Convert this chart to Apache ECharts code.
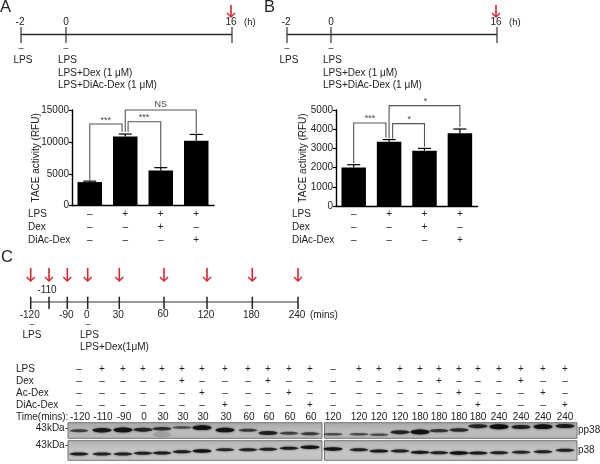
<!DOCTYPE html>
<html><head><meta charset="utf-8">
<style>html,body{margin:0;padding:0;background:#fff}#c{width:600px;height:464px}</style>
<script src="https://cdn.jsdelivr.net/npm/echarts@6/dist/echarts.min.js"></script>
</head><body><div id="c"></div>
<script>
// ---- data ----
const barRowsLabels = ["LPS","Dex","DiAc-Dex"];
const barSigns = [["-","+","+","+"],["-","-","+","-"],["-","-","-","+"]];
const aValues = [3700,10850,5520,10180];
const aErrTop = [3850,11230,5960,11170];
const bValues = [2000,3350,2880,3790];
const bErrTop = [2150,3460,3000,4010];
const aMax = 15000, bMax = 5000;
// bracket: [fromCat, fromDrop, toCat, toDrop, level]
const aBrackets = [[0,3950,0.91,11600,12800],[1.08,11600,2,6050,13170],[1,11600,3,11300,15000]];
const bBrackets = [[0,2230,0.91,3560,4320],[1.1,3520,2,3090,4290],[1,3520,3,4130,5230]];
const aBracketLabels = [[0.45,"***",13350],[1.53,"***",13750],[2,"NS",15850]];
const bBracketLabels = [[0.46,"***",4560],[1.57,"*",4520],[2.03,"*",5460]];
const laneTimes = ["-120","-110","-90","0","30","30","30","30","60","60","60","60","120","120","120","120","180","180","180","180","240","240","240","240"];
const rowNames = ["LPS","Dex","Ac-Dex","DiAc-Dex"];
const rowSigns = [
 "-+++++++++++-+++++++++++",
 "-----+---+-------+---+--",
 "------+---+-------+---+-",
 "-------+---+-------+---+"];
// western-blot bands: intensity 0..1 and row in the panel
const ppIntensity = [.45,.85,.95,.7,.6,.35,.95,.9,.5,.75,.45,.5, .35,.35,.35,.7,.95,.55,.65,.7,1,.75,.95,.8];
const ppRow = [430.7,430.3,430,429.7,428.7,427.5,427.7,430,430.3,433,433.3,433.7, 434.3,434.3,434.7,432.3,432,430.7,430,426.3,426.7,427,426.7,426];
const p38Intensity = [.8,.75,.75,.75,.8,.8,.95,.7,.75,.75,.8,.9, .9,.75,.85,.75,.85,.75,.95,.85,.75,.7,.75,.75];
const p38Row = [454,454,454,453.3,453,451.7,451,449.7,449.7,449.3,448.3,447.3, 449,449.7,451,451,452.3,452.7,453,453,452.7,452.3,451.7,450.3];

const tlA = {labels:["-2","0","16"], unit:"(h)"};
const tlC = {labels:["-120","-110","-90","0","30","60","120","180","240"], unit:"(mins)"};

// ---- layout ----
const FONT = '"Liberation Sans", Arial, sans-serif', INK = '#222';
const laneX = [79,102,123,143,162,182,202,225,248,268,289,310, 333,359,379,400,420,439,459,478,499,521,543,565];
const rowY = [369,381,393,405];
const tlCx = [30.7,49,67.3,87.7,119.3,164,207,252.3,298];

const texts = [], segs = [], arrows = [], panels = [], bands = [];
const T=(x,y,s,align,size,weight)=>texts.push({x,y,s,align:align||'center',size:size||10,weight});
const S=(x1,y1,x2,y2,w,c)=>segs.push({v:[x1,y1,x2,y2],w:w||1.2,c:c||'#333'});

// panel letters
T(0,7,"A",'left',16.5); T(264,7,"B",'left',16.5); T(1,257,"C",'left',16.5);

// timelines A and B
function hTimeline(x0,x1,x2){
  S(x0,34.5,x2,34.5,1.5,'#2a2a2a'); [x0,x1,x2].forEach(x=>S(x,27,x,43,1.2));
  T(x0-1,22,tlA.labels[0]); T(x1,22,tlA.labels[1]); T(x2-1,22,tlA.labels[2]); T(x2+12,22,tlA.unit,'left',9.5);
  arrows.push([x2-1,5,17]);
  T(x0,49,"–",'center',9); T(x1,49,"–",'center',9);
  T(x0+2,60,"LPS"); T(x1-8,60,"LPS",'left');
  T(x1-8,73,"LPS+Dex (1 μM)",'left'); T(x1-8,85,"LPS+DiAc-Dex (1 μM)",'left');
}
hTimeline(21,66,232); hTimeline(287,331,497);

// timeline C
S(tlCx[0],302,tlCx[8],302,1.2);
tlCx.forEach((x,i)=>{S(x,296.7,x,309,1.5,'#222'); arrows.push([x,268,281]);
  if(i===1) T(x-2,290,tlC.labels[i]); else T(x-1,i===5?314:315,tlC.labels[i]);});
T(310,315,tlC.unit,'left');
T(32,324.5,"–",'center',9); T(88,324.5,"–",'center',9);
T(32,335,"LPS"); T(80,335,"LPS",'left'); T(80,347,"LPS+Dex(1μM)",'left');

// blot table
rowNames.forEach((n,r)=>{T(16,rowY[r],n,'left');
  laneX.forEach((x,i)=>T(x,rowY[r],rowSigns[r][i]==='+'?'+':'–','center',10));});
T(16,417,"Time(mins):",'left');
laneTimes.forEach((t,i)=>T(laneX[i]+(i<12?1:0),417,t));
T(68,428.5,"43kDa-",'right'); T(68,445,"43kDa-",'right');
T(578,430,"pp38",'left'); T(578,450.5,"p38",'left');

// blot panels and bands
[[68,322],[324.5,577]].forEach(([a,b])=>{panels.push([a,422.7,b,438.3,0],[a,440.7,b,460.3,1]);});
bands.push({x:162,y:434.5,a:.14,rx:9,ry:3});
laneX.forEach((x,i)=>{
  bands.push({x,y:ppRow[i],a:.35+.65*ppIntensity[i],rx:9.5,ry:.6+1.9*ppIntensity[i]});
  bands.push({x,y:p38Row[i],a:.35+.65*p38Intensity[i],rx:9.5,ry:.6+1.2*p38Intensity[i]});
});

// ---- render helpers ----
const overlay = {xAxisIndex:0,yAxisIndex:0,type:'custom',silent:true,clip:false,animation:false};
const series = [
 {...overlay,name:'panels',data:panels,renderItem(p,api){
   const a=api.coord([api.value(0),api.value(1)]),b=api.coord([api.value(2),api.value(3)]);
   const stops=api.value(4)?['#b2b2b2','#c6c6c6','#c2c2c2']:['#a6a6a6','#bcbcbc','#b6b6b6'];
   return {type:'rect',shape:{x:a[0],y:a[1],width:b[0]-a[0],height:b[1]-a[1]},
     style:{fill:{type:'linear',x:0,y:0,x2:0,y2:1,colorStops:stops.map((c,i)=>({offset:i/2,color:c}))},stroke:'#737373',lineWidth:1}};}},
 {...overlay,name:'bands',data:bands.map(b=>[b.x,b.y]),renderItem(p,api){
   const b=bands[p.dataIndex],c=api.coord([b.x,b.y]);
   return {type:'ellipse',shape:{cx:c[0],cy:c[1],rx:b.rx,ry:b.ry},
     style:{fill:'rgba(15,15,15,'+b.a+')',shadowBlur:2.5,shadowColor:'rgba(20,20,20,'+(b.a*.8)+')'}};}},
 {...overlay,name:'segments',data:segs.map(s=>s.v),renderItem(p,api){
   const s=segs[p.dataIndex],a=api.coord([s.v[0],s.v[1]]),b=api.coord([s.v[2],s.v[3]]);
   return {type:'line',shape:{x1:a[0],y1:a[1],x2:b[0],y2:b[1]},style:{stroke:s.c,lineWidth:s.w}};}},
 {...overlay,name:'arrows',data:arrows,renderItem(p,api){
   const x=api.value(0),y0=api.value(1),y1=api.value(2),a=api.coord([x,y0]),b=api.coord([x,y1]);
   return {type:'group',children:[
     {type:'line',shape:{x1:a[0],y1:a[1],x2:b[0],y2:b[1]},style:{stroke:'#d9252e',lineWidth:1.6}},
     {type:'polyline',shape:{points:[[b[0]-4,b[1]-4],[b[0],b[1]],[b[0]+4,b[1]-4]]},style:{stroke:'#d9252e',lineWidth:1.4,fill:null}}]};}},
 {...overlay,name:'texts',data:texts.map(t=>[t.x,t.y]),renderItem(p,api){
   const t=texts[p.dataIndex],c=api.coord([t.x,t.y]);
   return {type:'text',x:c[0],y:c[1],style:{text:t.s,fill:INK,font:t.size+'px '+FONT,align:t.align,verticalAlign:'middle'}};}}
];

function barGroup(idx,name,vals,errs,brs,brl,rowLabelsX){
  const ax={xAxisIndex:idx,yAxisIndex:idx};
  series.push({...ax,type:'bar',name,data:vals,barWidth:24.5,animation:false,silent:true,itemStyle:{color:'#000'}});
  series.push({...ax,type:'custom',name:name+' error',silent:true,animation:false,clip:false,
    data:vals.map((v,i)=>[i,v,errs[i]]),renderItem(p,api){
      const a=api.coord([api.value(0),api.value(1)]),b=api.coord([api.value(0),api.value(2)]);
      return {type:'group',children:[
        {type:'line',shape:{x1:a[0],y1:a[1],x2:b[0],y2:b[1]},style:{stroke:'#000',lineWidth:1.2}},
        {type:'line',shape:{x1:b[0]-6.5,y1:b[1],x2:b[0]+6.5,y2:b[1]},style:{stroke:'#000',lineWidth:1.2}}]};}});
  const step = idx===1?35.5:35.4;
  series.push({...ax,type:'custom',name:name+' brackets',silent:true,animation:false,clip:false,
    data:brs,renderItem(p,api){
      const zero=api.coord([0,0]),f=zero[0]+api.value(0)*step,t=zero[0]+api.value(2)*step;
      const Y=v=>api.coord([0,v])[1];
      return {type:'polyline',shape:{points:[[f,Y(api.value(1))],[f,Y(api.value(4))],[t,Y(api.value(4))],[t,Y(api.value(3))]]},
        style:{stroke:'#555',lineWidth:1.1,fill:null}};}});
  series.push({...ax,type:'custom',name:name+' stars',silent:true,animation:false,clip:false,
    data:brl.map(l=>[l[0],l[2]]),renderItem(p,api){
      const zero=api.coord([0,0]),x=zero[0]+api.value(0)*step;
      return {type:'text',x,y:api.coord([0,api.value(1)])[1],style:{text:brl[p.dataIndex][1],fill:'#444',font:'9px '+FONT,align:'center',verticalAlign:'middle'}};}});
  // sign rows
  const cells=[];barSigns.forEach((r,ri)=>r.forEach((s,ci)=>cells.push([ci,ri,s==='+'?1:0])));
  series.push({...ax,type:'custom',name:name+' signs',silent:true,animation:false,clip:false,
    data:cells,renderItem(p,api){
      const z=api.coord([api.value(0),0]);
      return {type:'text',x:z[0],y:z[1]+8.5+api.value(1)*13,style:{text:api.value(2)?'+':'–',fill:INK,font:'10px '+FONT,align:'center',verticalAlign:'middle'}};}});
  series.push({...ax,type:'custom',name:name+' row labels',silent:true,animation:false,clip:false,
    data:barRowsLabels.map((l,i)=>[0,i]),renderItem(p,api){
      const z=api.coord([0,0]);
      return {type:'text',x:rowLabelsX,y:z[1]+8.5+api.value(1)*13,style:{text:barRowsLabels[p.dataIndex],fill:INK,font:'10px '+FONT,align:'left',verticalAlign:'middle'}};}});
}
barGroup(1,'A',aValues,aErrTop,aBrackets,aBracketLabels,28);
barGroup(2,'B',bValues,bErrTop,bBrackets,bBracketLabels,292);

const cats=["1","2","3","4"];
const catAxis=g=>({type:'category',gridIndex:g,data:cats,boundaryGap:true,
  axisLine:{lineStyle:{color:'#000',width:1.4}},axisTick:{show:false},axisLabel:{show:false}});
const valAxis=(g,max,iv,gap)=>({type:'value',gridIndex:g,min:0,max,interval:iv,splitLine:{show:false},
  name:'TACE activity (RFU)',nameLocation:'middle',nameGap:gap,nameRotate:90,nameMoveOverlap:false,
  nameTextStyle:{fontFamily:FONT,fontSize:10,color:INK},
  axisLine:{show:true,lineStyle:{color:'#000',width:1.4}},axisTick:{show:true,length:3,lineStyle:{color:'#000',width:1.2}},
  axisLabel:{fontFamily:FONT,fontSize:10,color:INK,margin:3,formatter:v=>String(v)}});

echarts.init(document.getElementById('c'),null,{renderer:'canvas'}).setOption({
  animation:false,backgroundColor:'#fff',
  grid:[{left:0,top:0,width:600,height:464},
        {left:72,width:142,top:110,height:95.7},
        {left:336,width:141.6,top:110,height:96}],
  xAxis:[{type:'value',gridIndex:0,min:0,max:600,show:false},catAxis(1),catAxis(2)],
  yAxis:[{type:'value',gridIndex:0,min:0,max:464,inverse:true,show:false},
         valAxis(1,aMax,5000,31),valAxis(2,bMax,1000,28)],
  series
});
</script></body></html>
